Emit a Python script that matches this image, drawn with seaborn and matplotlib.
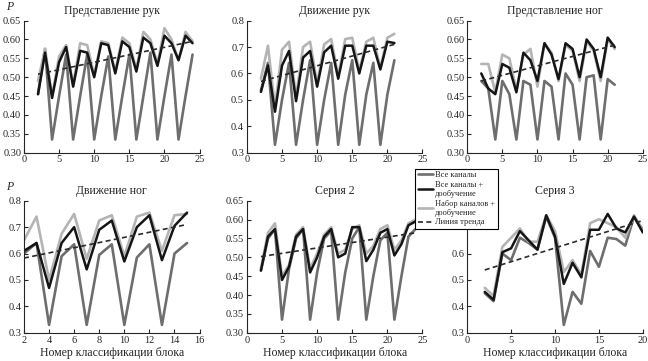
import numpy as np
import pandas as pd
import matplotlib
matplotlib.use("Agg")
import matplotlib.pyplot as plt
import seaborn as sns

# series names
names = ["Все каналы", "Все каналы +\nдообучение", "Набор каналов +\nдообучение", "Линия тренда"]
titles = ["Представление рук", "Движение рук", "Представление ног",
          "Движение ног", "Серия 2", "Серия 3"]

# Представление рук
hand_img_x = list(range(2, 25))
hand_img_all = [0.455, 0.575, 0.335, 0.45, 0.56, 0.335, 0.45, 0.56, 0.335, 0.45, 0.555, 0.335,
                0.45, 0.56, 0.335, 0.45, 0.565, 0.335, 0.45, 0.56, 0.335, 0.45, 0.56]
hand_img_ft = [0.455, 0.565, 0.445, 0.54, 0.58, 0.475, 0.57, 0.565, 0.50, 0.59, 0.585, 0.51,
               0.595, 0.58, 0.515, 0.605, 0.59, 0.53, 0.61, 0.59, 0.545, 0.61, 0.59]
hand_img_sub = [0.49, 0.575, 0.45, 0.555, 0.585, 0.48, 0.59, 0.585, 0.505, 0.595, 0.59, 0.515,
                0.605, 0.59, 0.52, 0.62, 0.60, 0.535, 0.63, 0.60, 0.545, 0.62, 0.595]
hand_img_trend = [0.508, 0.595]

# Движение рук
hand_mov_x = list(range(2, 22))
hand_mov_all = [0.535, 0.64, 0.33, 0.50, 0.64, 0.33, 0.50, 0.65, 0.33, 0.50, 0.64, 0.33,
                0.52, 0.65, 0.33, 0.52, 0.64, 0.33, 0.52, 0.65]
hand_mov_ft = [0.53, 0.63, 0.455, 0.63, 0.685, 0.495, 0.66, 0.685, 0.55, 0.68, 0.705, 0.58,
               0.705, 0.705, 0.60, 0.705, 0.705, 0.615, 0.72, 0.715]
hand_mov_sub = [0.58, 0.705, 0.47, 0.69, 0.72, 0.51, 0.70, 0.72, 0.56, 0.71, 0.73, 0.59,
                0.73, 0.735, 0.61, 0.72, 0.735, 0.62, 0.735, 0.75]
hand_mov_trend = [0.57, 0.71]

# Представление ног
leg_img_x = list(range(2, 22))
leg_img_all = [0.49, 0.47, 0.335, 0.49, 0.455, 0.335, 0.49, 0.48, 0.335, 0.49, 0.475, 0.335,
               0.51, 0.48, 0.335, 0.50, 0.505, 0.335, 0.495, 0.48]
leg_img_ft = [0.51, 0.47, 0.455, 0.535, 0.525, 0.46, 0.565, 0.545, 0.49, 0.59, 0.56, 0.495,
              0.59, 0.575, 0.50, 0.60, 0.575, 0.50, 0.605, 0.58]
leg_img_sub = [0.535, 0.535, 0.46, 0.56, 0.55, 0.465, 0.56, 0.575, 0.475, 0.59, 0.565, 0.49,
               0.585, 0.57, 0.49, 0.595, 0.57, 0.49, 0.60, 0.575]
leg_img_trend = [0.49, 0.585]

# Движение ног
leg_mov_x = list(range(2, 16))
leg_mov_all = [0.60, 0.64, 0.33, 0.59, 0.635, 0.33, 0.595, 0.635, 0.33, 0.585, 0.635, 0.33,
               0.60, 0.64]
leg_mov_ft = [0.61, 0.64, 0.47, 0.64, 0.70, 0.54, 0.69, 0.725, 0.57, 0.70, 0.745, 0.575,
              0.705, 0.755]
leg_mov_sub = [0.65, 0.74, 0.50, 0.675, 0.75, 0.58, 0.725, 0.745, 0.59, 0.74, 0.755, 0.61,
               0.745, 0.75]
leg_mov_trend = [0.583, 0.71]

# Серия 2
ser2_x = list(range(2, 25))
ser2_all = [0.465, 0.55, 0.575, 0.335, 0.47, 0.55, 0.575, 0.335, 0.46, 0.55, 0.57, 0.335,
            0.46, 0.55, 0.58, 0.335, 0.45, 0.545, 0.565, 0.335, 0.45, 0.555, 0.575]
ser2_ft = [0.465, 0.555, 0.575, 0.44, 0.475, 0.555, 0.575, 0.46, 0.50, 0.555, 0.575, 0.50,
           0.51, 0.58, 0.58, 0.49, 0.52, 0.565, 0.575, 0.505, 0.535, 0.585, 0.595]
ser2_sub = [0.47, 0.565, 0.59, 0.45, 0.48, 0.56, 0.58, 0.47, 0.51, 0.56, 0.58, 0.51,
            0.52, 0.575, 0.585, 0.51, 0.53, 0.575, 0.585, 0.52, 0.545, 0.59, 0.60]
ser2_trend = [0.502, 0.565]

# Серия 3
ser3_x = list(range(2, 21))
ser3_all = [0.45, 0.42, 0.60, 0.575, 0.66, 0.64, 0.615, 0.74, 0.66, 0.33, 0.455, 0.41,
            0.61, 0.55, 0.66, 0.655, 0.63, 0.74, 0.69]
ser3_ft = [0.455, 0.425, 0.605, 0.62, 0.685, 0.65, 0.615, 0.745, 0.665, 0.485, 0.565, 0.51,
           0.69, 0.69, 0.75, 0.695, 0.68, 0.74, 0.68]
ser3_sub = [0.47, 0.44, 0.625, 0.66, 0.695, 0.645, 0.645, 0.745, 0.685, 0.53, 0.575, 0.52,
            0.715, 0.73, 0.715, 0.70, 0.66, 0.745, 0.685]
ser3_trend = [0.538, 0.725]

panels = [
    (hand_img_x, hand_img_all, hand_img_ft, hand_img_sub, hand_img_trend),
    (hand_mov_x, hand_mov_all, hand_mov_ft, hand_mov_sub, hand_mov_trend),
    (leg_img_x, leg_img_all, leg_img_ft, leg_img_sub, leg_img_trend),
    (leg_mov_x, leg_mov_all, leg_mov_ft, leg_mov_sub, leg_mov_trend),
    (ser2_x, ser2_all, ser2_ft, ser2_sub, ser2_trend),
    (ser3_x, ser3_all, ser3_ft, ser3_sub, ser3_trend),
]
xlims = [(0, 25), (0, 25), (0, 25), (2, 16), (0, 25), (0, 20)]
xticks = [range(0, 26, 5), range(0, 26, 5), range(0, 26, 5), range(2, 17, 2),
          range(0, 26, 5), range(0, 21, 5)]
yfine = [True, False, True, False, True, False]

sns.set_style("ticks")
plt.rcParams['font.family'] = ['Liberation Serif', 'DejaVu Serif']

fig = plt.figure(figsize=(6.48, 3.61), dpi=100)
lefts = [0.037, 0.381, 0.721]
bottoms = [0.577, 0.078]
w, h = 0.271, 0.366

c_all, c_ft, c_sub, c_trend = "#6e6e6e", "#151515", "#b4b4b4", "#2a2a2a"

for i, (x, s_all, s_ft, s_sub, trend) in enumerate(panels):
    ax = fig.add_axes([lefts[i % 3], bottoms[i // 3], w, h])
    df = pd.DataFrame({"x": x, "all": s_all, "ft": s_ft, "sub": s_sub})
    sns.lineplot(data=df, x="x", y="all", ax=ax, color=c_all, lw=1.9, label=names[0])
    sns.lineplot(data=df, x="x", y="sub", ax=ax, color=c_sub, lw=1.9, label=names[2])
    sns.lineplot(data=df, x="x", y="ft", ax=ax, color=c_ft, lw=1.8, label=names[1])
    tdf = pd.DataFrame({"x": [x[0], x[-1]], "y": trend})
    sns.lineplot(data=tdf, x="x", y="y", ax=ax, color=c_trend, lw=1.2,
                 linestyle=(0, (3, 2)), label=names[3])
    ax.set_xlim(*xlims[i])
    ax.set_xticks(list(xticks[i]))
    if yfine[i]:
        yt = np.arange(0.30, 0.651, 0.05)
        ax.set_ylim(0.30, 0.65)
        ax.set_yticks(yt)
        ax.set_yticklabels([f"{v:.2f}" for v in yt])
    else:
        yt = np.arange(0.3, 0.81, 0.1)
        ax.set_ylim(0.3, 0.8)
        ax.set_yticks(yt)
        lbls = [f"{v:.1f}" for v in yt]
        if i == 5:
            # these labels sit under the legend box in the reference
            lbls = [l if v < 0.65 else "" for l, v in zip(lbls, yt)]
        ax.set_yticklabels(lbls)
    sns.despine(ax=ax)
    ax.tick_params(direction="in", length=3, width=0.8, labelsize=7.5, pad=2)
    for sp in ("left", "bottom"):
        ax.spines[sp].set_linewidth(0.8)
    ax.set_title(titles[i], fontsize=8.5, pad=5)
    ax.set_ylabel("")
    if i >= 3:
        ax.set_xlabel("Номер классификации блока", fontsize=8.5, labelpad=2)
    else:
        ax.set_xlabel("")
    ax.get_legend().remove()
    if i % 3 == 0:
        ax.text(-0.1, 1.06, "P", transform=ax.transAxes, fontsize=8.5,
                style="italic", ha="left", va="bottom")
    if i == 0:
        handles, labels = ax.get_legend_handles_labels()

order = [0, 2, 1, 3]
leg = fig.legend([handles[k] for k in order], [labels[k] for k in order],
                 loc="upper left", bbox_to_anchor=(0.641, 0.533), fontsize=6,
                 frameon=True, fancybox=False, edgecolor="black", framealpha=1,
                 handlelength=1.8, handletextpad=0.3, borderpad=0.3, labelspacing=0.2,
                 borderaxespad=0)
leg.get_frame().set_linewidth(0.8)

fig.savefig("out.png", dpi=100)
